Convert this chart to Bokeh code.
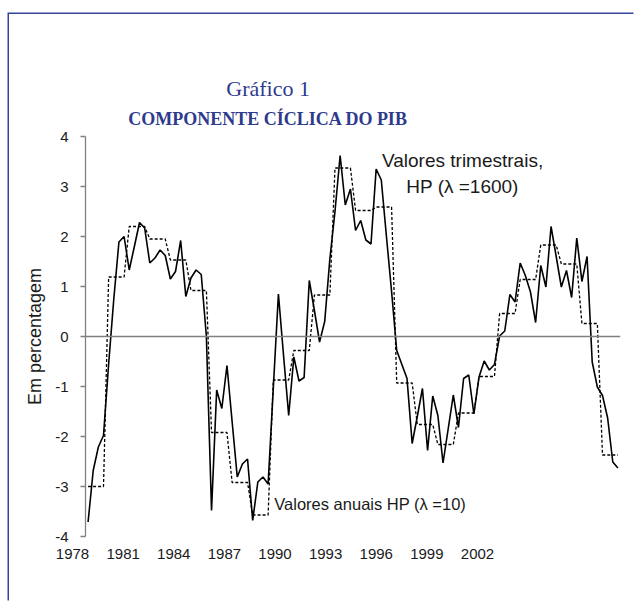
from bokeh.plotting import figure
from bokeh.models import Range1d, FixedTicker, Span, Label, LinearAxis
from bokeh.embed import file_html
from bokeh.resources import INLINE

# Quarterly cyclical component (HP, lambda=1600), 1978Q1 - 2003Q4
quarterly = [
    -3.71, -2.68, -2.21, -1.98,   # 1978
    -0.55, 0.75, 1.89, 2.00,      # 1979
    1.33, 1.80, 2.28, 2.17,       # 1980
    1.47, 1.57, 1.73, 1.62,       # 1981
    1.15, 1.30, 1.92, 0.80,       # 1982
    1.17, 1.33, 1.24, 0.00,       # 1983
    -3.48, -1.07, -1.44, -0.58,   # 1984
    -1.70, -2.81, -2.55, -2.45,   # 1985
    -3.68, -2.91, -2.81, -2.95,   # 1986
    -1.05, 0.85, -0.38, -1.58,    # 1987
    -0.41, -0.89, -0.82, 1.12,    # 1988
    0.52, -0.11, 0.30, 1.55,      # 1989
    2.50, 3.62, 2.63, 2.95,       # 1990
    2.12, 2.32, 1.93, 1.85,       # 1991
    3.35, 3.13, 2.00, 0.90,       # 1992
    -0.28, -0.56, -0.84, -2.14,   # 1993
    -1.60, -1.04, -2.28, -1.19,   # 1994
    -1.58, -2.53, -1.85, -1.17,   # 1995
    -1.82, -0.84, -0.77, -1.55,   # 1996
    -0.81, -0.49, -0.67, -0.56,   # 1997
    0.01, 0.11, 0.84, 0.69,       # 1998
    1.47, 1.22, 0.89, 0.28,       # 1999
    1.42, 0.99, 2.20, 1.60,       # 2000
    0.99, 1.32, 0.78, 1.97,       # 2001
    1.10, 1.60, -0.51, -1.01,     # 2002
    -1.18, -1.63, -2.51, -2.63,   # 2003
]

# Annual cyclical component (HP, lambda=10), 1978 - 2003
years = list(range(1978, 2004))
annual = [-3.00, 1.19, 2.20, 1.95, 1.53, 0.92, -1.92, -2.92, -3.57, -0.87,
          -0.28, 0.83, 3.37, 2.52, 2.59, -0.93, -1.76, -2.16, -1.53, -0.80,
          0.46, 1.14, 1.83, 1.45, 0.26, -2.37]

tick_years = [1978, 1981, 1984, 1987, 1990, 1993, 1996, 1999, 2002]
y_ticks = [-4, -3, -2, -1, 0, 1, 2, 3, 4]

n = len(quarterly)
qx = list(range(n))
annual_q = [v for v in annual for _ in range(4)]
# the year labels of the original sit on a compressed spacing; the labels are
# padded on the right (non-breaking spaces) so the first one can sit left of
# the value axis while its tick stays inside the plotted range
PAD = "\u00a0" * 8
tick_pos = [round(0.22 + 9.84 * k, 2) for k in range(len(tick_years))]

NAVY = "#2e3a8c"
FRAME = "#34449a"
GRAY = "#808080"
TXT = "#1a1a1a"

p = figure(width=626, height=588, output_backend="svg", toolbar_location=None,
           x_range=Range1d(-0.5, n - 0.5), y_range=Range1d(-4, 4),
           min_border_left=76, min_border_right=15, min_border_top=122,
           min_border_bottom=66, title=None)
p.outline_line_color = None
p.xgrid.grid_line_color = None
p.ygrid.grid_line_color = None
p.background_fill_color = "white"
p.border_fill_color = "white"
p.styles = {"margin-left": "9px", "margin-top": "14px",
            "box-shadow": "-1.5px -1.5px 0 0 " + FRAME}

# x axis: labels only
xa = p.xaxis[0]
xa.ticker = FixedTicker(ticks=tick_pos)
xa.major_label_overrides = {t: str(y) + PAD for t, y in zip(tick_pos, tick_years)}
xa.axis_line_color = None
xa.major_tick_line_color = None
xa.minor_tick_line_color = None
xa.major_label_text_font = "Liberation Sans"
xa.major_label_text_font_size = "15px"
xa.major_label_text_color = TXT
xa.major_label_standoff = 2

ya = p.yaxis[0]
ya.ticker = FixedTicker(ticks=y_ticks)
ya.major_label_overrides = {t: str(t) for t in y_ticks}
ya.axis_line_color = GRAY
ya.axis_line_width = 1.3
ya.major_tick_line_color = GRAY
ya.major_tick_line_width = 1.3
ya.major_tick_out = 5
ya.major_tick_in = 0
ya.minor_tick_line_color = None
ya.major_label_text_font = "Liberation Sans"
ya.major_label_text_font_size = "15px"
ya.major_label_text_color = TXT
ya.major_label_standoff = 12
ya.axis_label = "Em percentagem"
ya.axis_label_text_font = "Liberation Sans"
ya.axis_label_text_font_style = "normal"
ya.axis_label_text_font_size = "18px"
ya.axis_label_text_color = TXT
ya.axis_label_standoff = 7

# titles as single-label axes stacked above the plot
title_x = 35
ax_sub = LinearAxis(ticker=FixedTicker(ticks=[title_x]),
                    major_label_overrides={title_x: "COMPONENTE CÍCLICA DO PIB"})
ax_main = LinearAxis(ticker=FixedTicker(ticks=[title_x]),
                     major_label_overrides={title_x: "Gráfico 1"})
for ax in (ax_sub, ax_main):
    ax.axis_line_color = None
    ax.major_tick_line_color = None
    ax.minor_tick_line_color = None
    ax.major_tick_out = 0
    ax.major_tick_in = 0
    ax.major_label_text_font = "Liberation Serif"
    ax.major_label_text_color = NAVY
ax_sub.major_label_text_font_size = "18px"
ax_sub.major_label_text_font_style = "bold"
ax_sub.major_label_standoff = 8
ax_main.major_label_text_font_size = "22px"
ax_main.major_label_standoff = 5
p.add_layout(ax_sub, "above")
p.add_layout(ax_main, "above")

p.add_layout(Span(location=0, dimension="width", line_color=GRAY, line_width=1.5))

p.line(qx, annual_q, line_color="black", line_width=1.3, line_dash="3 2")
p.line(qx, quarterly, line_color="black", line_width=1.6)

p.add_layout(Label(x=72.8, y=3.26, text="Valores trimestrais,\nHP (λ =1600)",
                   text_align="center", text_baseline="middle",
                   text_font="Liberation Sans", text_font_size="19px",
                   text_color=TXT, text_line_height=1.2))
p.add_layout(Label(x=36.2, y=-3.35, text="Valores anuais HP (λ =10)",
                   text_align="left", text_baseline="middle",
                   text_font="Liberation Sans", text_font_size="16.5px",
                   text_color=TXT))

open("out.html", "w").write(file_html(p, INLINE))
